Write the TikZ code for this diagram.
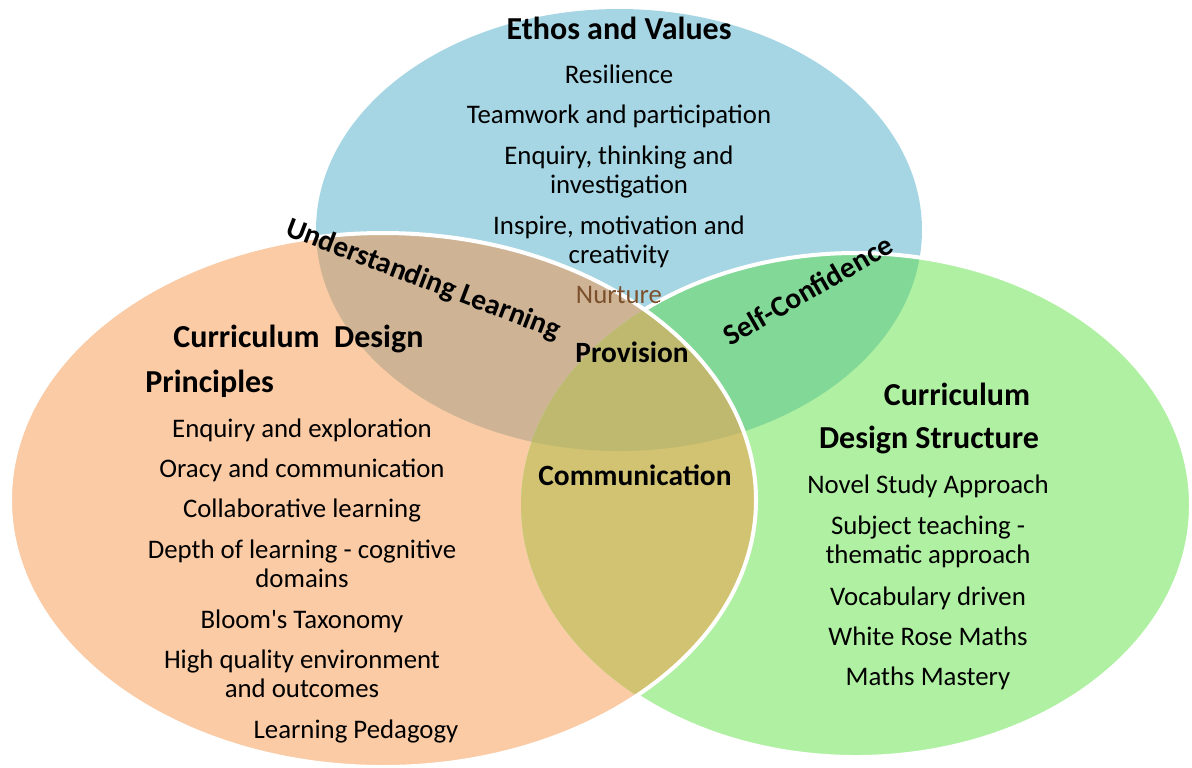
\documentclass[tikz,border=0pt]{standalone}
\usepackage{fontspec}
\setmainfont{Carlito}
\usetikzlibrary{positioning}
\definecolor{ethosblue}{RGB}{166,214,227}
\definecolor{prinorange}{RGB}{250,203,165}
\definecolor{structgreen}{RGB}{176,240,162}
\definecolor{learntan}{RGB}{206,180,148}
\definecolor{confgreen}{RGB}{130,216,150}
\definecolor{commolive}{RGB}{210,195,115}
\definecolor{provolive}{RGB}{190,185,110}
\definecolor{nurturebrown}{RGB}{125,80,45}
\newcommand{\EthosShape}{(619,230) ellipse [x radius=303, y radius=221]}
\newcommand{\PrinShape}{(383,500) ellipse [x radius=373, y radius=267]}
\newcommand{\StructShape}{(856,505) ellipse [x radius=335, y radius=252]}

\begin{document}
\begin{tikzpicture}[
    x=0.5pt, y=-0.5pt,
    ring/.style={draw=white, line width=2pt},
    item/.style={align=center, anchor=base, inner sep=0pt, font=\fontsize{13.4}{14.5}\selectfont},
    head/.style={anchor=base, inner sep=0pt, font=\fontsize{16}{22}\selectfont\bfseries},
    overlap/.style={head, font=\fontsize{14.7}{20}\selectfont\bfseries}
]
    \useasboundingbox (0,0) rectangle (1192,767);

    % Circles and their overlaps
    \fill[ethosblue] \EthosShape;
    \fill[prinorange] \PrinShape;
    \begin{scope}
        \clip \EthosShape;
        \fill[learntan] \PrinShape;
    \end{scope}
    \fill[structgreen] \StructShape;
    \begin{scope}
        \clip \EthosShape;
        \fill[confgreen] \StructShape;
    \end{scope}
    \begin{scope}
        \clip \PrinShape;
        \fill[commolive] \StructShape;
        \clip \EthosShape;
        \fill[provolive] \StructShape;
    \end{scope}

    % White rims
    \begin{scope}[even odd rule]
        \clip \PrinShape (-20,-20) rectangle (1212,787);
        \draw[ring] \StructShape;
    \end{scope}
    \draw[ring] \PrinShape;

    % Ethos and Values
    \node[head] (ethos) at (619,39) {Ethos and Values};
    \node[item] (resil) at (619,83) {Resilience};
    \node[item] (team) at (619,123) {Teamwork and participation};
    \node[item] (enq) at (619,193) {Enquiry, thinking and\\investigation};
    \node[item] (insp) at (619,263) {Inspire, motivation and\\creativity};
    \begin{scope}[even odd rule]
        \clip \StructShape (-20,-20) rectangle (1212,787);
        \node[item, text=nurturebrown] (nurt) at (619,303) {Nurture};
    \end{scope}

    % Overlaps
    \node[overlap, anchor=center, rotate=-21] (under) at (423,280) {Understanding Learning};
    \node[overlap, anchor=center, rotate=30] (selfc) at (808,290) {Self-Confidence};
    \node[overlap] (prov) at (632,362) {Provision};
    \node[overlap] (comm) at (635,485) {Communication};

    % Curriculum Design Principles
    \node[head, anchor=base west] (prin1) at (173,347) {Curriculum\ \ Design};
    \node[head, anchor=base west] (prin2) at (145,392) {Principles};
    \node[item] (p1) at (302,437) {Enquiry and exploration};
    \node[item] (p2) at (302,477) {Oracy and communication};
    \node[item] (p3) at (302,517) {Collaborative learning};
    \node[item] (p4) at (302,587) {Depth of learning - cognitive\\domains};
    \node[item] (p5) at (302,628) {Bloom\textquotesingle s Taxonomy};
    \node[item] (p6) at (302,697) {High quality environment\\and outcomes};
    \node[item] (p7) at (356,738) {Learning Pedagogy};

    % Curriculum Design Structure
    \node[head] (str1) at (957,405) {Curriculum};
    \node[head] (str2) at (929,448) {Design Structure};
    \node[item] (s1) at (928,493) {Novel Study Approach};
    \node[item] (s2) at (928,563) {Subject teaching -\\thematic approach};
    \node[item] (s3) at (928,605) {Vocabulary driven};
    \node[item] (s4) at (928,645) {White Rose Maths};
    \node[item] (s5) at (928,685) {Maths Mastery};
\end{tikzpicture}
\end{document}
